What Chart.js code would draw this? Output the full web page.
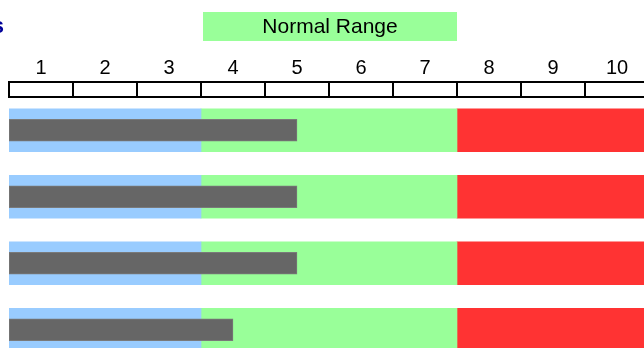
<!DOCTYPE html>
<html>
<head>
<meta charset="utf-8">
<script src="https://cdn.jsdelivr.net/npm/chart.js@4/dist/chart.umd.min.js"></script>
<style>
  html, body { margin: 0; padding: 0; background: #ffffff; overflow: hidden; width: 644px; height: 348px; }
  #wrap { position: absolute; left: 0; top: 0; width: 660px; height: 380px; }
</style>
</head>
<body>
<div id="wrap"><canvas id="c" width="660" height="380"></canvas></div>
<script>
// Rows of the bullet chart and the measured value in each
const rows = ['Row 1', 'Row 2', 'Row 3', 'Row 4'];
const values = [5, 5, 5, 4];

// Qualitative ranges along the scale
const lowRange = [0.5, 3.5];
const normalRange = [3.5, 7.5];
const highRange = [7.5, 10.5];
const normalLabel = 'Normal Range';

// Scale ticks
const tickLabels = [1, 2, 3, 4, 5, 6, 7, 8, 9, 10];
const scaleMin = 0.5;
const scaleMax = 10.5;

const titleText = 's';

const FONT = '"Liberation Sans", Arial, sans-serif';

// Segmented scale strip and the range caption above the chart area
const stripPlugin = {
  id: 'strip',
  afterDraw(chart) {
    const ctx = chart.ctx;
    const xs = chart.scales.x;
    const top = chart.chartArea.top;
    const h = 15;
    ctx.save();
    ctx.strokeStyle = '#000000';
    ctx.lineWidth = 2;
    const x0 = xs.getPixelForValue(scaleMin);
    const x1 = xs.getPixelForValue(scaleMax);
    ctx.strokeRect(x0, top - h, x1 - x0, h);
    for (let v = scaleMin + 1; v < scaleMax; v += 1) {
      const x = Math.round(xs.getPixelForValue(v));
      ctx.beginPath();
      ctx.moveTo(x, top - h);
      ctx.lineTo(x, top);
      ctx.stroke();
    }
    // caption box over the normal range
    const nx0 = xs.getPixelForValue(normalRange[0]) + 2;
    const nx1 = xs.getPixelForValue(normalRange[1]);
    ctx.fillStyle = '#99ff99';
    ctx.fillRect(nx0, 12, nx1 - nx0, 29);
    ctx.fillStyle = '#000000';
    ctx.font = '21px ' + FONT;
    ctx.textAlign = 'center';
    ctx.textBaseline = 'middle';
    ctx.fillText(normalLabel, (nx0 + nx1) / 2, 27);
    // title
    ctx.fillStyle = '#000099';
    ctx.font = 'bold 22px ' + FONT;
    ctx.textAlign = 'right';
    ctx.textBaseline = 'middle';
    ctx.fillText(titleText, 4, 27);
    ctx.restore();
  }
};

const rangeSet = (range, color) => ({
  data: rows.map(() => range.slice()),
  backgroundColor: color,
  borderWidth: 0,
  barThickness: 43,
  grouped: false,
  order: 2
});

new Chart(document.getElementById('c'), {
  type: 'bar',
  data: {
    labels: rows,
    datasets: [
      {
        data: values.map(v => [scaleMin, v]),
        backgroundColor: '#666666',
        borderColor: '#7a7a7a',
        borderWidth: 1,
        borderSkipped: false,
        barThickness: 22,
        grouped: false,
        order: 1
      },
      rangeSet(lowRange, '#99ccff'),
      rangeSet(normalRange, '#99ff99'),
      rangeSet(highRange, '#ff3333')
    ]
  },
  options: {
    indexAxis: 'y',
    responsive: false,
    animation: false,
    layout: { padding: { left: 9, right: 11, top: 39, bottom: 17 } },
    plugins: {
      legend: { display: false },
      tooltip: { enabled: false }
    },
    scales: {
      x: {
        type: 'linear',
        position: 'top',
        min: scaleMin,
        max: scaleMax,
        afterBuildTicks(scale) {
          scale.ticks = tickLabels.map(v => ({ value: v }));
        },
        grid: { display: false, drawTicks: false },
        border: { display: false },
        ticks: {
          color: '#000000',
          padding: 17,
          font: { family: FONT, size: 20 },
          maxRotation: 0,
          autoSkip: false
        }
      },
      y: {
        display: false,
        offset: true
      }
    }
  },
  plugins: [stripPlugin]
});
</script>
</body>
</html>
